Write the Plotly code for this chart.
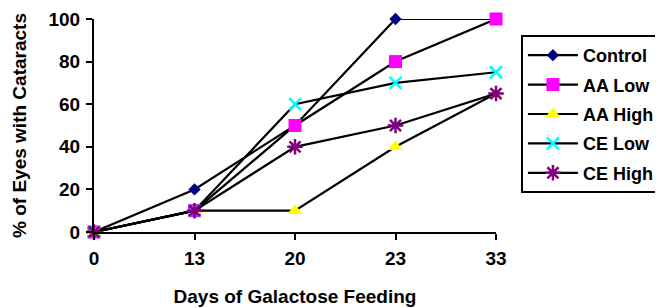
import plotly.graph_objects as go

days = ["0", "13", "20", "23", "33"]
control = [0, 20, 50, 100, 100]
aa_low = [0, 10, 50, 80, 100]
aa_high = [0, 10, 10, 40, 65]
ce_low = [0, 10, 60, 70, 75]
ce_high = [0, 10, 40, 50, 65]
y_ticks = [0, 20, 40, 60, 80, 100]

FONT = "Arial, Liberation Sans, sans-serif"
BOLD19 = dict(family=FONT, size=19, color="black", weight="bold")
BOLD18 = dict(family=FONT, size=18, color="black", weight="bold")
xs = list(range(len(days)))

series = [
    ("Control", control, dict(symbol="diamond", size=9.5, color="#000080")),
    ("AA Low", aa_low, dict(symbol="square", size=13, color="#FF00FF")),
    ("AA High", aa_high, dict(symbol="triangle-up", size=13, color="#FFFF00")),
    ("CE Low", ce_low, dict(symbol="x-thin", size=12, color="#00FFFF",
                            line=dict(color="#00FFFF", width=2.5))),
    ("CE High", ce_high, dict(symbol="asterisk", size=13, color="#800080",
                              line=dict(color="#800080", width=2.5))),
]

fig = go.Figure()
for name, vals, mk in series:
    fig.add_trace(go.Scatter(
        x=xs, y=vals, name=name, mode="lines+markers",
        line=dict(color="black", width=2.2),
        marker=mk, cliponaxis=False, legendgroup=name,
    ))

# page has an 8px body margin: layout is offset by 8px
fig.update_layout(
    width=655, height=300,
    margin=dict(l=86, r=167, t=11, b=76, autoexpand=False),
    paper_bgcolor="white", plot_bgcolor="white",
    font=BOLD19,
    showlegend=True,
    legend=dict(
        x=1.062, y=0.925, xanchor="left", yanchor="top",
        bordercolor="black", borderwidth=2, bgcolor="white",
        font=BOLD18,
        traceorder="grouped", tracegroupgap=3, itemwidth=50,
    ),
    xaxis=dict(
        range=[0, 4], tickvals=xs, ticktext=days, tickfont=BOLD19,
        showline=True, linecolor="black", linewidth=2,
        ticks="outside", ticklen=6, tickwidth=2, tickcolor="black",
        showgrid=False, zeroline=False, automargin=False,
        ticklabelstandoff=2,
        title=dict(text="Days of Galactose Feeding", standoff=22, font=BOLD19),
    ),
    yaxis=dict(
        range=[0, 100], tickvals=y_ticks, tickfont=BOLD19,
        showline=True, linecolor="black", linewidth=2,
        ticks="outside", ticklen=6, tickwidth=2, tickcolor="black",
        showgrid=False, zeroline=False, automargin=False,
        ticklabelstandoff=2,
        title=dict(text="% of Eyes with Cataracts", standoff=17, font=BOLD19),
    ),
)

fig.write_html("out.html")
